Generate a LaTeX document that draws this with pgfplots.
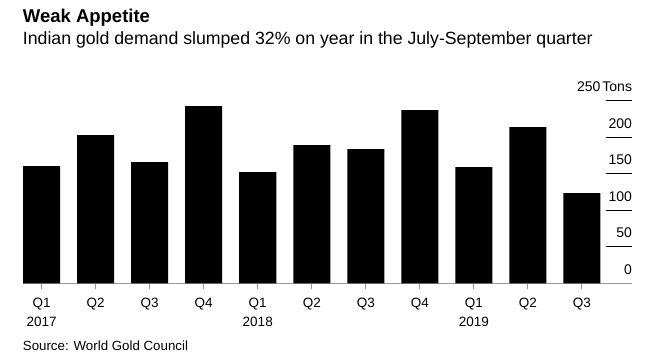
\documentclass[border=0pt]{standalone}
\usepackage{pgfplots}
\pgfplotsset{compat=1.18}
\usepackage{fontspec}
\setmainfont{Liberation Sans}
\definecolor{axisgray}{HTML}{999999}
\begin{document}
\begin{tikzpicture}[x=1pt,y=1pt]
\path[use as bounding box] (0,0) rectangle (658,361);
% y ticks and labels
\begin{axis}[
  at={(22.7pt,77.5pt)}, anchor=south west,
  scale only axis, width=609.5pt, height=183pt,
  xmin=-0.35, xmax=10.93, ymin=0, ymax=250,
  clip=false,
  axis x line=none,
  axis y line*=right,
  y axis line style={draw=none},
  ytick={50,100,150,200,250},
  yticklabels={50,100,150,200,250\hspace{2pt}Tons},
  ytick pos=right,
  ytick style={draw=black, line width=0.9pt},
  y tick label style={anchor=base east, inner sep=0pt, font=\fontsize{14}{16}\selectfont, yshift=9pt},
  extra y ticks={0},
  extra y tick labels={0},
  extra y tick style={ytick style={draw=none}},
  tick align=inside,
  major tick length=26.5pt,
]
\end{axis}
\begin{axis}[
  at={(22.7pt,77.5pt)}, anchor=south west,
  scale only axis, width=609.5pt, height=183pt,
  xmin=-0.35, xmax=10.93, ymin=0, ymax=250,
  clip=false,
  axis x line*=bottom,
  axis y line=none,
  x axis line style={draw=axisgray, line width=1.6pt, -},
  xtick={0,...,10},
  xticklabels={Q1\\2017,Q2,Q3,Q4,Q1\\2018,Q2,Q3,Q4,Q1\\2019,Q2,Q3},
  xtick style={draw=axisgray, line width=1pt},
  x tick label style={align=center, anchor=north, inner sep=0pt, font=\fontsize{13.5}{19}\selectfont, yshift=-9pt},
  xtick pos=bottom,
  tick align=outside,
  major tick length=5pt,
  bar width=0.685,
]
\addplot[ybar, fill=black, draw=none] coordinates {
  (0,160.2) (1,202.6) (2,165.7) (3,242.2) (4,152.0) (5,189.0)
  (6,183.5) (7,236.7) (8,158.9) (9,213.5) (10,123.4)
};
\end{axis}
\node[anchor=base west, inner sep=0pt, font=\fontsize{18.5}{20}\selectfont\bfseries] at (22.7,338.5) {Weak Appetite};
\node[anchor=base west, inner sep=0pt, font=\fontsize{17.7}{19}\selectfont] at (22.7,316.7) {Indian gold demand slumped 32\% on year in the July-September quarter};
\node[anchor=base west, inner sep=0pt, font=\fontsize{13.3}{15}\selectfont] at (22.7,10.5) {Source: World Gold Council};
\end{tikzpicture}
\end{document}
